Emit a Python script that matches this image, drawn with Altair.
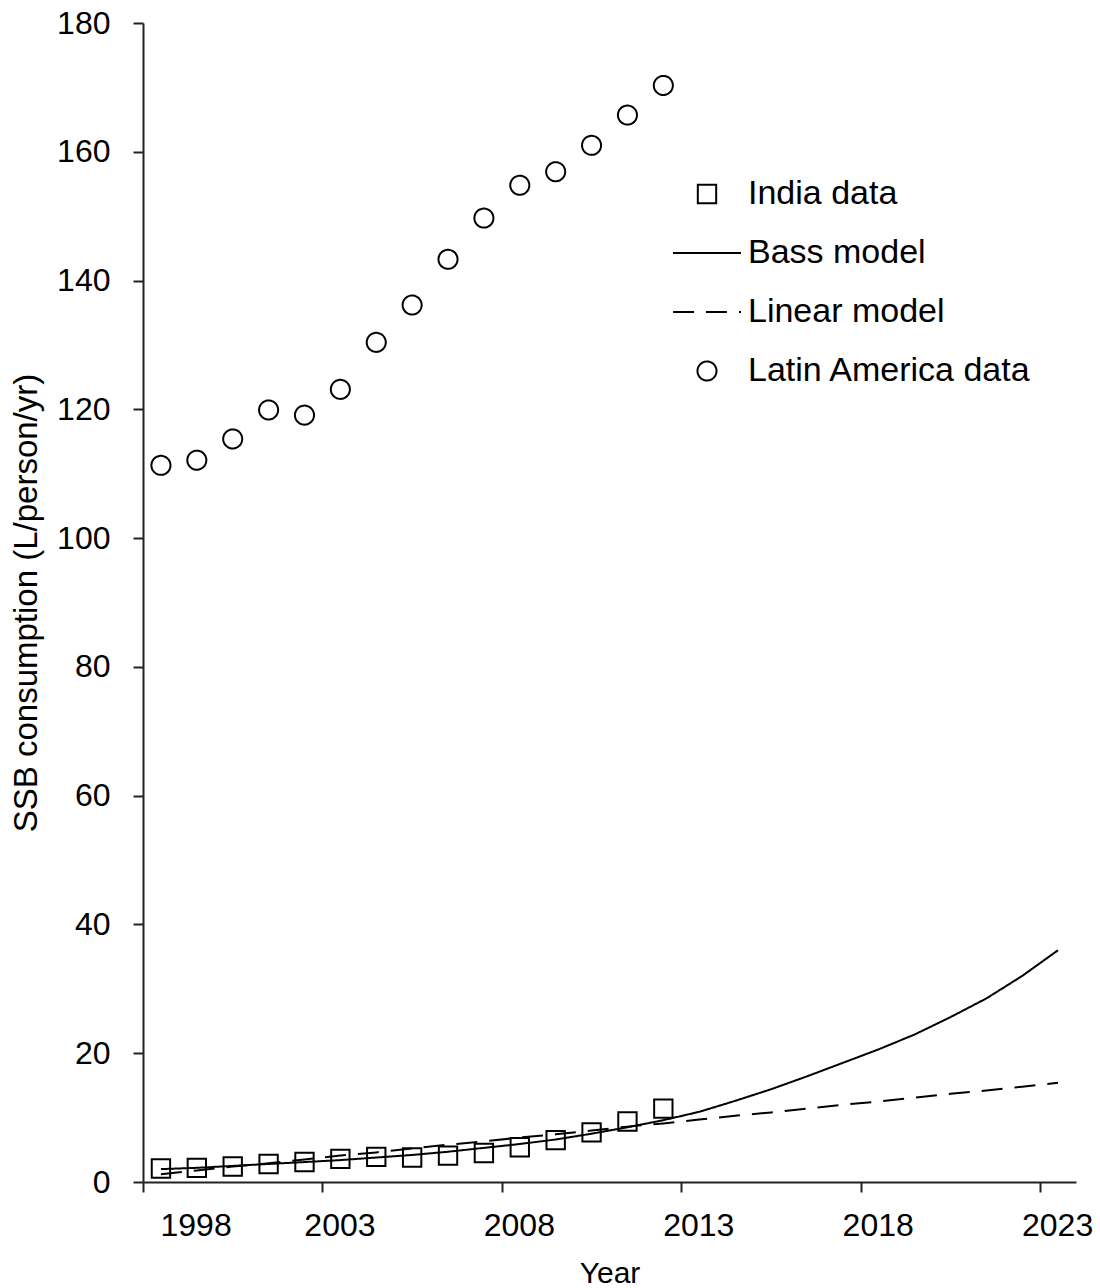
import altair as alt
import pandas as pd

# ---------------- data ----------------
data_years = list(range(1998, 2013))
india_data = [2.1, 2.2, 2.4, 2.8, 3.1, 3.6, 3.9, 3.8, 4.1, 4.5, 5.4, 6.5, 7.7, 9.4, 11.4]
latin_america_data = [111.3, 112.1, 115.4, 119.9, 119.1, 123.1, 130.4, 136.2, 143.3,
                      149.7, 154.8, 156.9, 161.0, 165.7, 170.3]

model_years = list(range(1998, 2024))
bass_model = [2.0, 2.2, 2.5, 2.8, 3.1, 3.4, 3.8, 4.2, 4.7, 5.3, 5.9, 6.6, 7.5, 8.5,
              9.6, 10.9, 12.6, 14.4, 16.4, 18.5, 20.6, 22.9, 25.6, 28.5, 32.0, 36.0]
linear_model = [1.2, 1.8, 2.4, 2.9, 3.5, 4.1, 4.6, 5.2, 5.8, 6.3, 6.9, 7.4, 8.0, 8.6,
                9.1, 9.7, 10.3, 10.8, 11.4, 12.0, 12.5, 13.1, 13.7, 14.2, 14.8, 15.4]

series_names = ["India data", "Bass model", "Linear model", "Latin America data"]
x_ticks = [1998, 2003, 2008, 2013, 2018, 2023]
y_ticks = [0, 20, 40, 60, 80, 100, 120, 140, 160, 180]

# ---------------- tables ----------------
points_df = pd.concat([
    pd.DataFrame({"year": data_years, "value": india_data, "series": "India data"}),
    pd.DataFrame({"year": data_years, "value": latin_america_data, "series": "Latin America data"}),
])
lines_df = pd.concat([
    pd.DataFrame({"year": model_years, "value": bass_model, "series": "Bass model"}),
    pd.DataFrame({"year": model_years, "value": linear_model, "series": "Linear model"}),
])

FONT = "Liberation Sans"

# symbol shapes (unit box -1..1, drawn at a common symbol size)
SQUARE = "M-0.27,-0.27L0.27,-0.27L0.27,0.27L-0.27,0.27Z"
STROKE = "M-1,0L1,0"
CIRCLE = "M0.28,0A0.28,0.28,0,1,1,-0.28,0A0.28,0.28,0,1,1,0.28,0Z"

legend = alt.Legend(
    title=None,
    orient="none",
    legendX=529,
    legendY=136,
    padding=0,
    labelFont=FONT,
    labelFontSize=34,
    labelColor="black",
    labelOffset=6,
    labelLimit=500,
    rowPadding=7,
    symbolStrokeColor="black",
    symbolFillColor="transparent",
    symbolStrokeWidth=2,
)

x_enc = alt.X(
    "xpos:Q",
    scale=alt.Scale(domain=[1998, 2024], nice=False, zero=False),
    axis=alt.Axis(
        title="Year",
        values=x_ticks,
        format="d",
        labelOffset=17,
        labelPadding=18,
        tickSize=10,
        titlePadding=17,
        titleFontSize=30,
    ),
)
y_enc = alt.Y(
    "value:Q",
    scale=alt.Scale(domain=[0, 180], nice=False),
    axis=alt.Axis(
        title="SSB consumption (L/person/yr)",
        values=y_ticks,
        tickSize=10,
        labelPadding=23,
        titlePadding=13,
        titleFontSize=33,
    ),
)

dash_scale = alt.Scale(domain=series_names, range=[[1, 0], [1, 0], [21, 12], [1, 0]])

lines = alt.Chart(lines_df).mark_line(color="black", strokeWidth=2).transform_calculate(
    xpos="datum.year + 0.5"
).encode(
    x=x_enc,
    y=y_enc,
    strokeDash=alt.StrokeDash("series:N", scale=dash_scale, legend=legend),
    detail="series:N",
)

points = alt.Chart(points_df).mark_point(
    filled=False, color="black", strokeWidth=2, opacity=1, size=4624
).transform_calculate(
    xpos="datum.year + 0.5"
).encode(
    x=x_enc,
    y=y_enc,
    shape=alt.Shape("series:N",
                    scale=alt.Scale(domain=series_names,
                                    range=[SQUARE, STROKE, STROKE, CIRCLE]),
                    legend=legend),
    strokeDash=alt.StrokeDash("series:N", scale=dash_scale, legend=legend),
)

chart = alt.layer(lines, points).properties(
    width=933,
    height=1159,
    padding={"left": 10, "top": 7, "right": 5, "bottom": 0},
).configure_view(stroke=None).configure_axis(
    labelFont=FONT,
    titleFont=FONT,
    labelFontSize=32,
    titleFontSize=31,
    titleFontWeight="normal",
    labelColor="black",
    titleColor="black",
    domainColor="#222222",
    tickColor="#222222",
    domainWidth=2,
    tickWidth=2,
    grid=False,
).configure_legend(symbolSize=4624)

chart.save("out.html", embed_options={"renderer": "svg", "actions": False})
